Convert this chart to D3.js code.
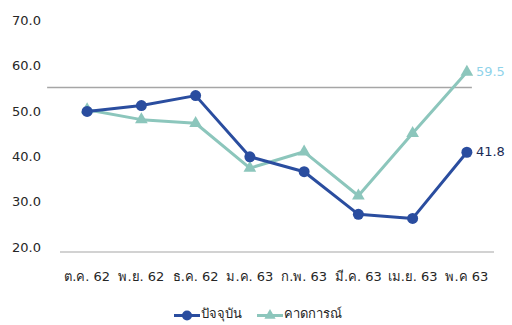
<!DOCTYPE html>
<html><head><meta charset="utf-8">
<script src="https://cdn.jsdelivr.net/npm/d3@7"></script>
<style>
html,body{margin:0;padding:0;background:#fff;}
text{font-family:Tahoma,"DejaVu Sans","Noto Sans",sans-serif;}
</style></head>
<body><svg id="c" width="512" height="325"></svg>
<script>
const categories = ["ต.ค. 62","พ.ย. 62","ธ.ค. 62","ม.ค. 63","ก.พ. 63","มี.ค. 63","เม.ย. 63","พ.ค 63"];
const current = [50.8, 52.1, 54.3, 40.8, 37.5, 28.1, 27.2, 41.8];
const expected = [51.2, 49.0, 48.2, 38.3, 41.9, 32.2, 46.0, 59.5];
const seriesNames = ["ปัจจุบัน","คาดการณ์"];
const yTicks = [20,30,40,50,60,70];
const refValue = 56.1;

const svg = d3.select("#c");
const x = d3.scaleBand().domain(categories).range([60,494]);
const y = d3.scaleLinear().domain([20,70]).range([251,24.5]);
const cx = d => x(d) + x.bandwidth()/2;

// y labels
svg.append("g").selectAll("text").data(yTicks).join("text")
  .attr("x",41).attr("y",d=>y(d)-3).attr("text-anchor","end")
  .attr("dominant-baseline","middle").attr("font-size",13).attr("fill","#262626")
  .text(d=>d.toFixed(1));

// x axis line
svg.append("line").attr("x1",60).attr("x2",494).attr("y1",y(20)+1).attr("y2",y(20)+1)
  .attr("stroke","#a6a6a6").attr("stroke-width",1.2);
// x labels
svg.append("g").selectAll("text").data(categories).join("text")
  .attr("x",d=>cx(d)).attr("y",277).attr("text-anchor","middle")
  .attr("dominant-baseline","middle").attr("font-size",13).attr("fill","#262626")
  .text(d=>d);

// reference line
svg.append("line").attr("x1",cx(categories[0])-40).attr("x2",cx(categories[7])+5)
  .attr("y1",y(refValue)).attr("y2",y(refValue))
  .attr("stroke","#a6a6a6").attr("stroke-width",1.5);

const blue = "#2a4d9f", teal = "#8cc6bc";
const line = d3.line().x((d,i)=>cx(categories[i])).y(d=>y(d));

svg.append("path").datum(expected).attr("d",line).attr("fill","none")
  .attr("stroke",teal).attr("stroke-width",3).attr("stroke-linejoin","round");
const tri = d3.symbol().type(d3.symbolTriangle).size(70);
svg.append("g").selectAll("path").data(expected).join("path")
  .attr("d",tri).attr("transform",(d,i)=>`translate(${cx(categories[i])},${y(d)})`)
  .attr("fill",teal);

svg.append("path").datum(current).attr("d",line).attr("fill","none")
  .attr("stroke",blue).attr("stroke-width",3).attr("stroke-linejoin","round");
svg.append("g").selectAll("circle").data(current).join("circle")
  .attr("cx",(d,i)=>cx(categories[i])).attr("cy",d=>y(d)).attr("r",5.5)
  .attr("fill",blue);

// end labels
svg.append("text").attr("x",cx(categories[7])+9).attr("y",y(expected[7])).attr("dominant-baseline","middle")
  .attr("font-size",13).attr("fill","#8fd3ea").text(expected[7].toFixed(1));
svg.append("text").attr("x",cx(categories[7])+9).attr("y",y(current[7])).attr("dominant-baseline","middle")
  .attr("font-size",13).attr("fill","#1a2a55").text(current[7].toFixed(1));

// legend
const lg = svg.append("g");
const legendItems = [{name:seriesNames[0],color:blue,type:"c",x:174},{name:seriesNames[1],color:teal,type:"t",x:257}];
legendItems.forEach(it=>{
  lg.append("line").attr("x1",it.x).attr("x2",it.x+26).attr("y1",315.5).attr("y2",315.5)
    .attr("stroke",it.color).attr("stroke-width",3);
  if(it.type==="c") lg.append("circle").attr("cx",it.x+13).attr("cy",315.5).attr("r",5).attr("fill",it.color);
  else lg.append("path").attr("d",d3.symbol().type(d3.symbolTriangle).size(55)).attr("transform",`translate(${it.x+13},315.5)`).attr("fill",it.color);
  lg.append("text").attr("x",it.x+27).attr("y",314).attr("dominant-baseline","middle")
    .attr("font-size",13).attr("fill","#262626").text(it.name);
});
</script></body></html>
